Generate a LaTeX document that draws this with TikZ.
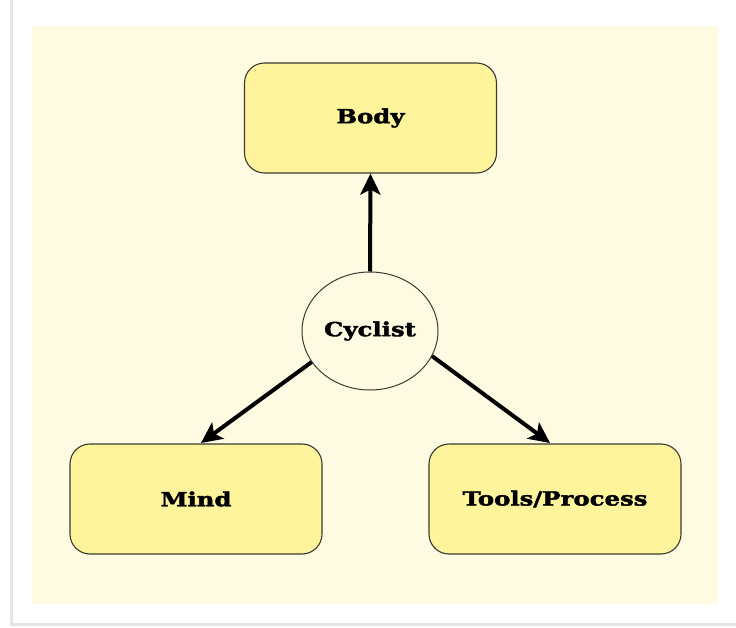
\documentclass[tikz,border=0pt]{standalone}
\usepackage{fontspec}
\newfontfamily\labelfont[FakeStretch=1.25, BoldFeatures={FakeBold=2}]{DejaVu Serif}
\usetikzlibrary{arrows.meta,shapes.geometric}
\definecolor{panel}{HTML}{FEFBE2}
\definecolor{boxfill}{HTML}{FEF49C}
\definecolor{edgegray}{HTML}{3A3A30}
\tikzset{
  lbl/.style={font=\labelfont\bfseries\fontsize{19.5}{22}\selectfont},
  box/.style={draw=edgegray, line width=1.1pt, fill=boxfill, rounded corners=20pt,
    minimum width=252pt, minimum height=110pt, inner sep=0pt, lbl},
  hub/.style={draw=edgegray, line width=1pt, fill=panel, ellipse,
    minimum width=136pt, minimum height=118pt, inner sep=0pt, lbl},
  link/.style={line width=4pt, -{Stealth[length=21pt,width=20pt,inset=5pt]}}
}
\begin{document}
\begin{tikzpicture}[x=1pt,y=-1pt]
\useasboundingbox (0,0) rectangle (736,628);
\fill[white] (0,0) rectangle (736,628);
\draw[gray!20, line width=3pt] (11,0) -- (11,624) -- (736,624);
\fill[panel] (32,26) rectangle (718,604);
\node[box] (body) at (370.5,118) {Body};
\node[box] (mind) at (196,499) {Mind};
\node[box] (tools) at (555,499) {Tools/Process};
\node[hub] (cyc) at (370,331) {Cyclist};
\coordinate (mtip) at (201,443);
\coordinate (ttip) at (550,443);
\draw[link] (cyc.north) -- (body.south);
\draw[link] (cyc.-152) -- (mtip);
\draw[link] (cyc.-22) -- (ttip);
\end{tikzpicture}
\end{document}
